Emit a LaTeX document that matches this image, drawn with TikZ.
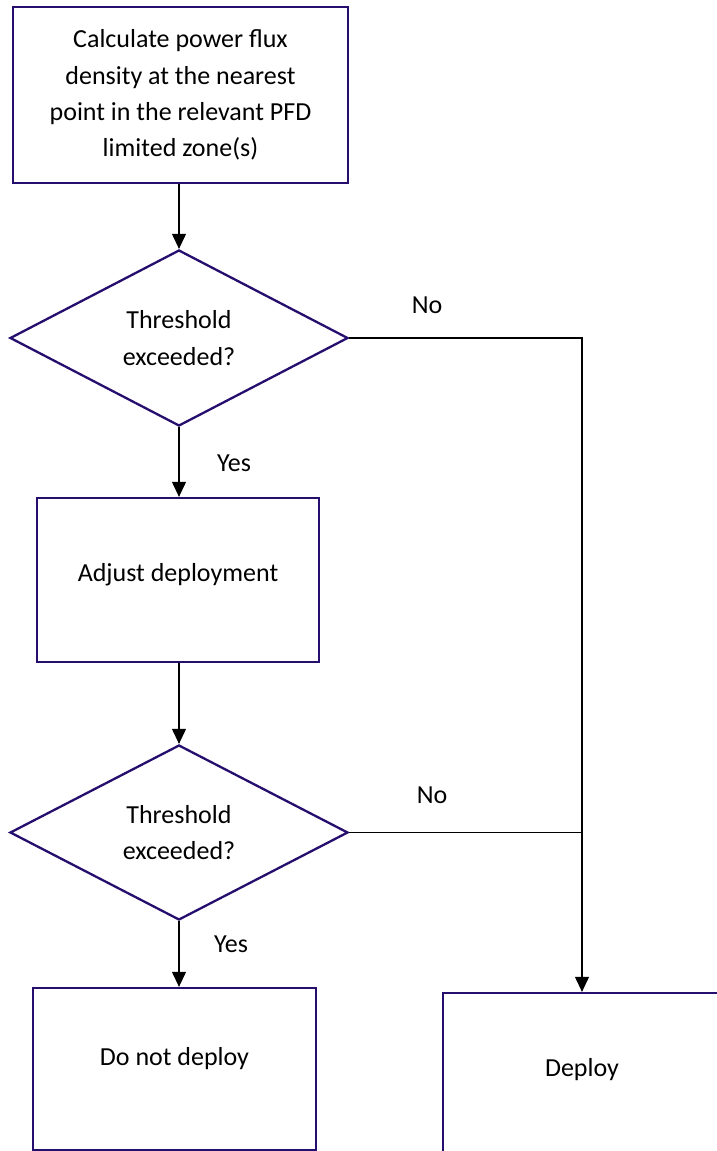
\documentclass[tikz,border=0pt]{standalone}
\usepackage{fontspec}
\setmainfont{Carlito}
\usepackage{tikz}
\usetikzlibrary{shapes.geometric, arrows.meta, positioning}
\definecolor{mynavy}{RGB}{38,14,110}
\definecolor{mydark}{RGB}{0,0,0}
\tikzset{
  block/.style={rectangle, draw=mynavy, fill=white,
    align=center, inner sep=0pt, line width=2.3pt,
    font=\fontsize{26}{36.3}\selectfont},
  decision/.style={diamond, draw=mynavy, fill=white,
    align=center, inner sep=0pt, line width=2.3pt,
    minimum width=338pt, minimum height=176pt,
    font=\fontsize{26}{36.3}\selectfont},
  arrow/.style={-{Triangle[width=14pt,length=15pt]}, line width=1.1pt, color=mydark},
  line/.style={line width=1.1pt, color=mydark},
  lbl/.style={font=\fontsize{26}{30}\selectfont}
}
\begin{document}
\begin{tikzpicture}[x=1pt, y=-1pt]
  \useasboundingbox (0,0) rectangle (716,1151);

  \node[block, minimum width=335pt, minimum height=176pt] (calc) at (180.5,95)
    {Calculate power flux\\density at the nearest\\point in the relevant PFD\\limited zone(s)};
  \node[decision] (thr1) at (179,338) {Threshold\\exceeded?};
  \node[block, minimum width=282pt, minimum height=164pt, text depth=15pt] (adjust) at (178,580) {Adjust deployment};
  \node[decision, minimum height=175pt] (thr2) at (179,832.5) {Threshold\\exceeded?};
  \node[block, minimum width=283pt, minimum height=162pt, text depth=25pt] (nodeploy) at (174.5,1069) {Do not deploy};
  \node[block, minimum width=278pt, minimum height=170pt, text depth=21pt] (deploy) at (582,1078) {Deploy};

  \coordinate (c1) at (582,338);
  \coordinate (c2) at (582,832.5);

  \draw[arrow] (calc.south -| thr1.north) -- (thr1.north);
  \draw[arrow] (thr1.south) -- (thr1.south |- adjust.north);
  \draw[arrow] (adjust.south -| thr2.north) -- (thr2.north);
  \draw[arrow] (thr2.south) -- (thr2.south |- nodeploy.north);
  \draw[arrow] (thr1.east) -- (c1) -- (deploy.north);
  \draw[line] (thr2.east) -- (c2);

  \node[lbl] (no1) at (427,305) {No};
  \node[lbl] (no2) at (432,795) {No};
  \node[lbl] (yes1) at (234,463) {Yes};
  \node[lbl] (yes2) at (231,944) {Yes};
\end{tikzpicture}
\end{document}
